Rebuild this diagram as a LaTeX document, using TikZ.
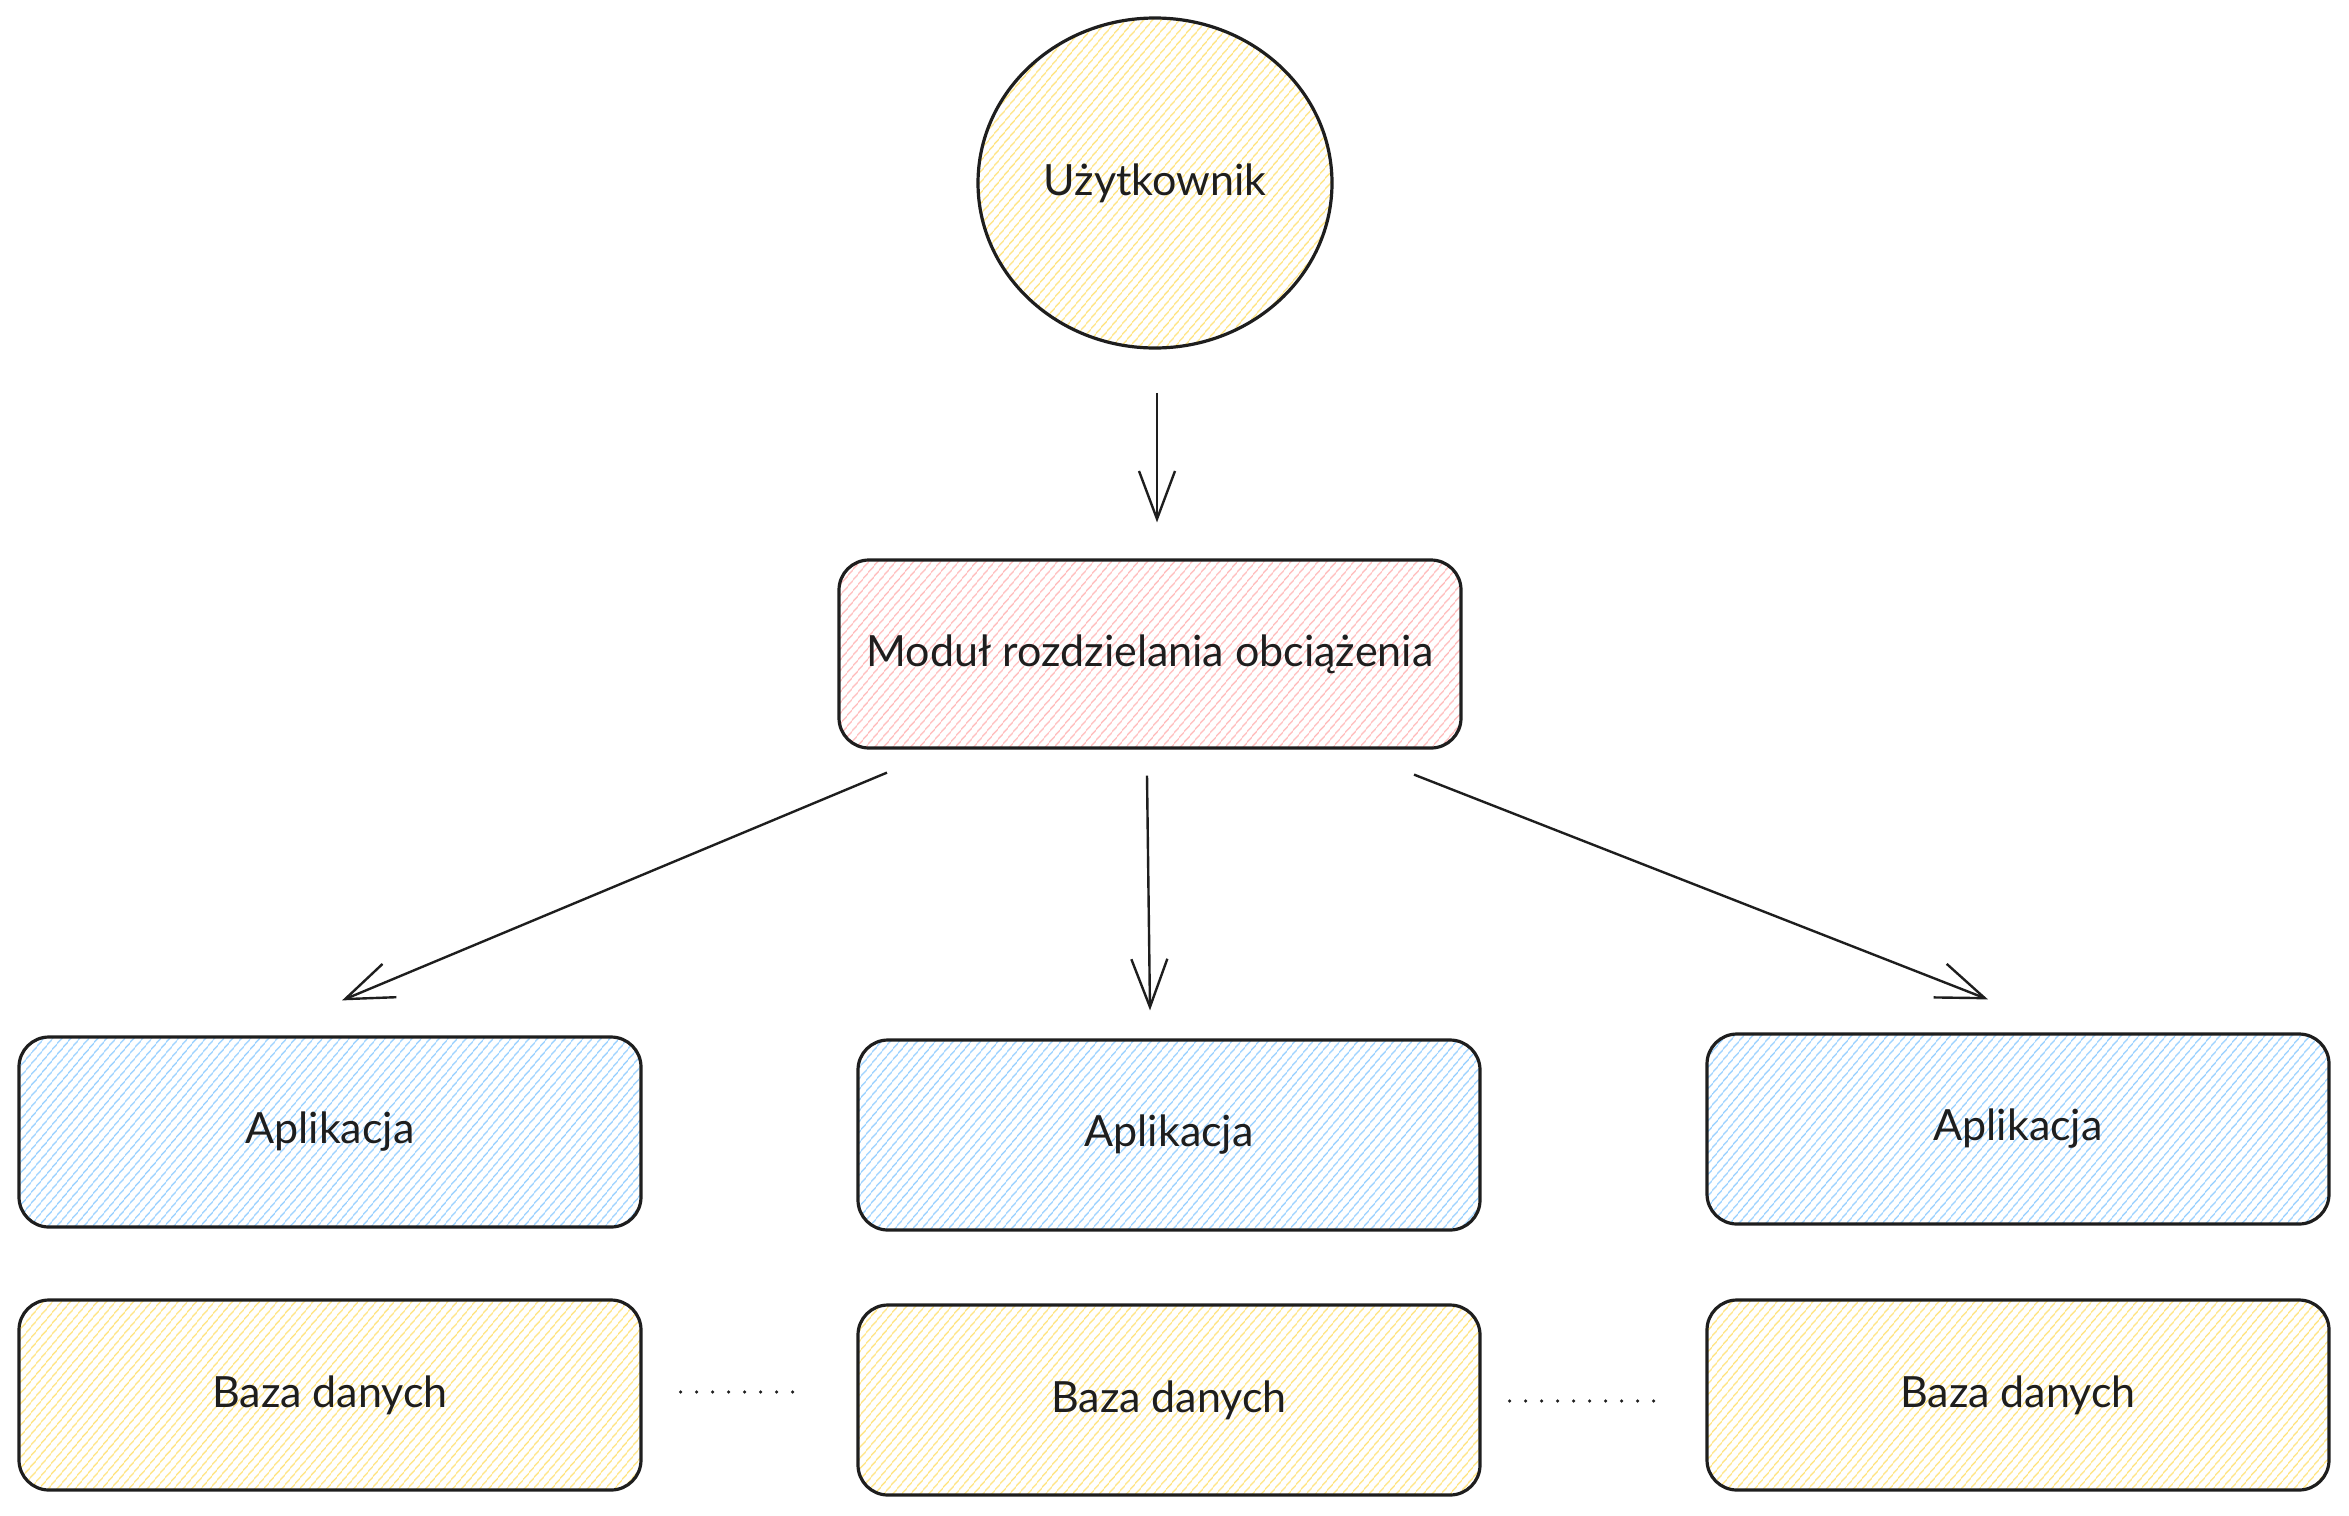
\documentclass[tikz,border=0pt]{standalone}
\usepackage{fontspec}
\setmainfont{Lato}
\usetikzlibrary{shapes.geometric,arrows.meta,patterns.meta,calc}
\definecolor{ink}{HTML}{1E1E1E}
\definecolor{hyellow}{HTML}{FFE27A}
\definecolor{hpink}{HTML}{FFB8B8}
\definecolor{hblue}{HTML}{94CEFF}
\tikzset{
  hatch/.style={pattern={Lines[angle=50,distance=6.5pt,line width=1.5pt]},pattern color=#1},
  boxnode/.style={draw=ink,line width=3.2pt,rounded corners=30pt,minimum width=622pt,minimum height=190pt,inner sep=0pt,text=ink,font=\fontsize{43}{50}\selectfont},
  usernode/.style={draw=ink,line width=3.2pt,ellipse,minimum width=354pt,minimum height=330pt,inner sep=0pt,text=ink,font=\fontsize{43}{50}\selectfont,hatch=hyellow},
  flow/.style={draw=ink,line width=2.4pt,-{Straight Barb[length=48pt,width=36pt,line width=2.4pt]}},
  dots/.style={draw=ink,line width=3.6pt,line cap=round,dash pattern=on 0pt off 16pt}
}
\begin{document}
\begin{tikzpicture}[x=1pt,y=-1pt]
\useasboundingbox (0,0) rectangle (2349,1515);
\node[usernode] (user) at (1155,183) {Użytkownik};
\node[boxnode,hatch=hpink,minimum height=188pt] (lb) at (1150,654) {Moduł rozdzielania obciążenia};
\node[boxnode,hatch=hblue] (app1) at (330,1132) {Aplikacja};
\node[boxnode,hatch=hblue] (app2) at (1169,1135) {Aplikacja};
\node[boxnode,hatch=hblue] (app3) at (2018,1129) {Aplikacja};
\node[boxnode,hatch=hyellow] (db1) at (330,1395) {Baza danych};
\node[boxnode,hatch=hyellow] (db2) at (1169,1400) {Baza danych};
\node[boxnode,hatch=hyellow] (db3) at (2018,1395) {Baza danych};
\draw[flow] ($(user.south)+(2,44)$) -- ($(lb.north)+(7,-36)$);
\draw[flow] ($(lb.south)+(-263,23)$) -- ($(app1.north)+(12,-35)$);
\draw[flow] ($(lb.south)+(-3,26)$) -- ($(app2.north)+(-19,-28)$);
\draw[flow] ($(lb.south)+(264,25)$) -- ($(app3.north)+(-30,-33)$);
\draw[dots] ($(db1.east)+(38,-3)$) -- ($(db2.west)+(-54,-8)$);
\draw[dots] ($(db2.east)+(28,1)$) -- ($(db3.west)+(-41,6)$);
\end{tikzpicture}
\end{document}
